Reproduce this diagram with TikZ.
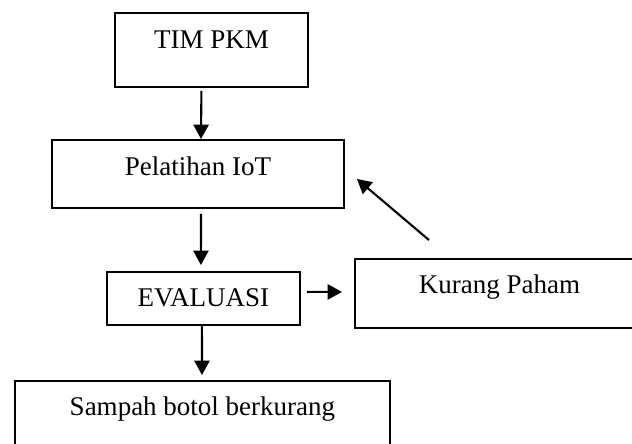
\documentclass[tikz,border=0pt]{standalone}
\usepackage{fontspec}
\setmainfont{Liberation Serif}
\usetikzlibrary{arrows.meta,calc}

\begin{document}
\begin{tikzpicture}[x=0.025cm,y=-0.025cm,
  kotak/.style={draw,line width=1.3pt,anchor=north west,inner xsep=0pt,inner ysep=0pt,
    font=\fontsize{19.2}{22}\selectfont},
  panah/.style={line width=1.5pt,-{Triangle[length=3.6mm,width=3.8mm]}}]
\useasboundingbox (0,0) rectangle (632,443);
\node[kotak,minimum width=4.825cm,text height=0.9cm,text depth=0.95cm] (Tim) at (114,12) {TIM PKM};
\node[kotak,minimum width=7.3cm,text height=0.9cm,text depth=0.8cm] (Pelatihan) at (51,139) {Pelatihan IoT};
\node[kotak,minimum width=4.825cm,text height=0.875cm,text depth=0.45cm] (Evaluasi) at (106,271) {EVALUASI};
\node[kotak,minimum width=7.225cm,text height=0.875cm,text depth=0.85cm] (Kurang) at (354,258) {Kurang Paham};
\node[kotak,minimum width=9.375cm,text height=0.875cm,text depth=0.875cm] (Sampah) at (14,380) {Sampah botol berkurang};

\path[panah] ($(Tim.south)+(-10,3)$) edge ($(Pelatihan.north)+(3,0)$);
\path[panah] ($(Pelatihan.south)+(3,5)$) edge ($(Evaluasi.north)+(-2.5,-6)$);
\path[panah] ($(Evaluasi.south)+(-1.5,0)$) edge ($(Sampah.north)+(-0.5,-5)$);
\path[panah] ($(Evaluasi.east)+(6,-6.5)$) edge ($(Kurang.west)+(-12,-1.5)$);
\path[panah] ($(Kurang.north)+(-70.5,-18)$) edge ($(Pelatihan.east)+(12,5)$);
\end{tikzpicture}
\end{document}
